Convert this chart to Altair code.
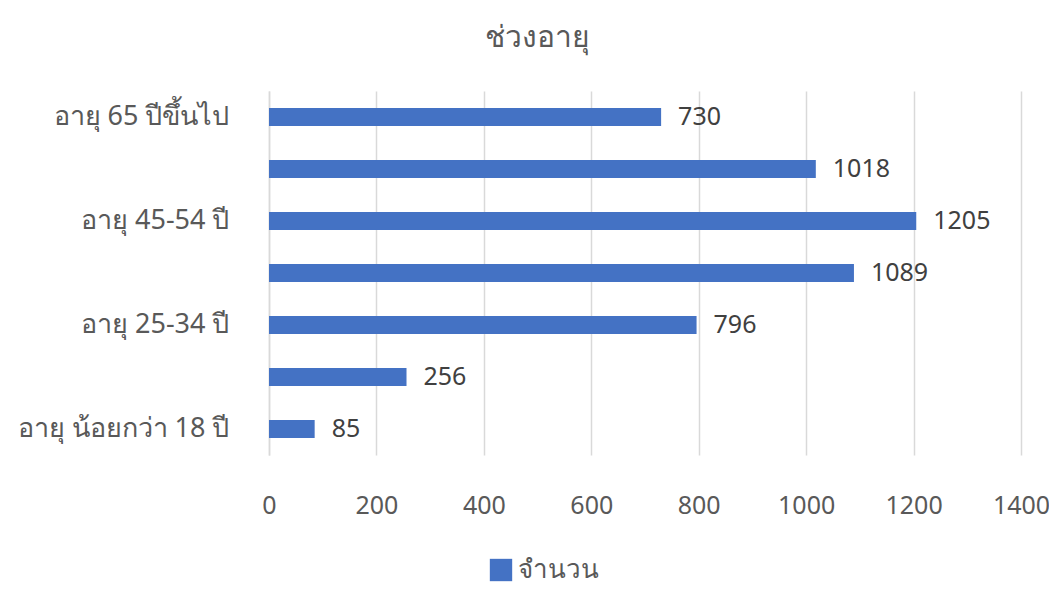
import altair as alt
import pandas as pd

categories = ["อายุ 65 ปีขึ้นไป", "อายุ 55-64 ปี", "อายุ 45-54 ปี", "อายุ 35-44 ปี",
              "อายุ 25-34 ปี", "อายุ 18-24 ปี", "อายุ น้อยกว่า 18 ปี"]
values = [730, 1018, 1205, 1089, 796, 256, 85]
shown_labels = ["อายุ 65 ปีขึ้นไป", "อายุ 45-54 ปี", "อายุ 25-34 ปี", "อายุ น้อยกว่า 18 ปี"]
x_ticks = [0, 200, 400, 600, 800, 1000, 1200, 1400]
series_name = "จำนวน"
title_text = "ช่วงอายุ"

df = pd.DataFrame({"cat": categories, "val": values, "series": series_name})

FONT = "Noto Sans"
GRAY = "#595959"

base = alt.Chart(df).encode(
    y=alt.Y("cat:N", sort=categories, title=None,
            axis=alt.Axis(values=shown_labels, labelFontSize=27, labelColor=GRAY,
                          labelFont=FONT, ticks=False, domainColor="#D9D9D9",
                          domainWidth=1.5, labelPadding=40, grid=False, labelLimit=400)),
)

bars = base.mark_bar(size=18).encode(
    x=alt.X("val:Q", scale=alt.Scale(domain=[0, 1400]), title=None,
            axis=alt.Axis(values=x_ticks, format="d", labelFontSize=25, labelColor=GRAY,
                          labelFont=FONT, ticks=False, domain=False, labelFlush=False,
                          gridColor="#D9D9D9", gridWidth=1.5, labelPadding=38)),
    color=alt.Color("series:N", scale=alt.Scale(range=["#4472C4"]), title=None,
                    legend=alt.Legend(orient="none", legendX=219, legendY=466,
                                      symbolType="square", symbolSize=500,
                                      symbolStrokeWidth=0, labelFontSize=26,
                                      labelColor=GRAY, labelFont=FONT)),
)

labels = base.mark_text(align="left", dx=17, fontSize=25, color="#404040", font=FONT).encode(
    x="val:Q",
    text="val:Q",
)

chart = (bars + labels).properties(
    width=752, height=364,
    title=alt.TitleParams(title_text, fontSize=30, font=FONT, color=GRAY,
                          fontWeight="normal", anchor="middle", dx=-108, offset=38),
    padding={"left": 261, "top": 83, "right": 28, "bottom": 137},
    autosize=alt.AutoSizeParams(type="none"),
).configure_view(stroke=None)

chart.save("out.html", embed_options={"renderer": "svg", "actions": False})
